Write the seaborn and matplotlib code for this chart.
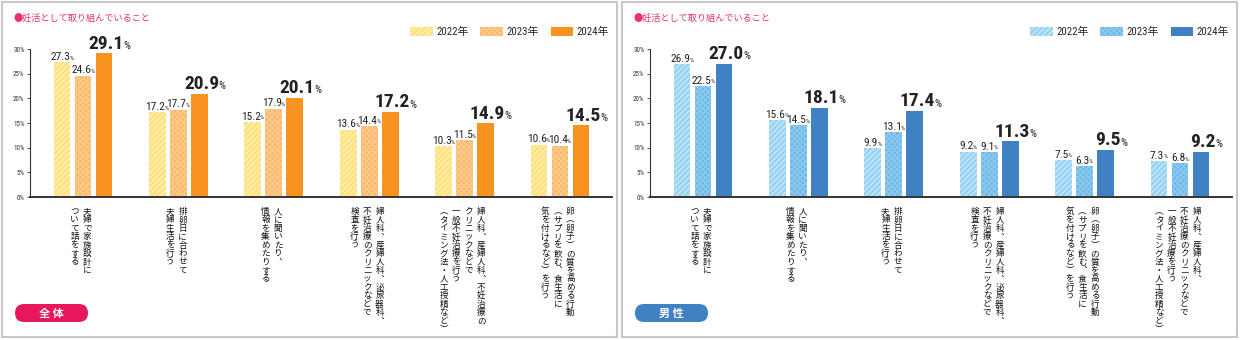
import numpy as np
import pandas as pd
import seaborn as sns
import matplotlib
matplotlib.use("Agg")
import matplotlib.pyplot as plt
from matplotlib.patches import Patch, FancyBboxPatch, Rectangle
from matplotlib.transforms import IdentityTransform, blended_transform_factory

# ---------------- data ----------------
years = ["2022年", "2023年", "2024年"]

cats_all = [
    "夫婦で家族設計に\nついて話をする",
    "排卵日に合わせて\n夫婦生活を行う",
    "人に聞いたり、\n情報を集めたりする",
    "婦人科、産婦人科、泌尿器科、\n不妊治療のクリニックなどで\n検査を行う",
    "婦人科、産婦人科、不妊治療の\nクリニックなどで\n一般不妊治療を行う\n（タイミング法・人工授精など）",
    "卵（卵子）の質を高める行動\n（サプリを飲む、食生活に\n気を付けるなど）を行う",
]
all_2022 = [27.3, 17.2, 15.2, 13.6, 10.3, 10.6]
all_2023 = [24.6, 17.7, 17.9, 14.4, 11.5, 10.4]
all_2024 = [29.1, 20.9, 20.1, 17.2, 14.9, 14.5]

cats_male = [
    "夫婦で家族設計に\nついて話をする",
    "人に聞いたり、\n情報を集めたりする",
    "排卵日に合わせて\n夫婦生活を行う",
    "婦人科、産婦人科、泌尿器科、\n不妊治療のクリニックなどで\n検査を行う",
    "卵（卵子）の質を高める行動\n（サプリを飲む、食生活に\n気を付けるなど）を行う",
    "婦人科、産婦人科、\n不妊治療のクリニックなどで\n一般不妊治療を行う\n（タイミング法・人工授精など）",
]
male_2022 = [26.9, 15.6, 9.9, 9.2, 7.5, 7.3]
male_2023 = [22.5, 14.5, 13.1, 9.1, 6.3, 6.8]
male_2024 = [27.0, 18.1, 17.4, 11.3, 9.5, 9.2]

yticks = [0, 5, 10, 15, 20, 25, 30]
title_text = "●妊活として取り組んでいること"
badges = ["全体", "男性"]

# ---------------- style ----------------
sns.set_theme(style="white")
CJK = ["Noto Sans CJK JP", "DejaVu Sans"]
NUM = ["Roboto Condensed", "Liberation Sans Narrow", "Roboto", "DejaVu Sans"]
plt.rcParams["font.family"] = CJK
plt.rcParams["hatch.linewidth"] = 1.2

W, H = 1240, 340
fig = plt.figure(figsize=(W / 100, H / 100), dpi=100)
fig.patch.set_facecolor("white")

PINK = "#E8336D"
TXT = "#222222"

orange_pal = {"fill": ["#FFE07C", "#F9B660", "#F7931E"],
              "hatch": ["#FFEFB0", "#FCC98A", None]}
blue_pal = {"fill": ["#93D2F2", "#66B6E6", "#4081C4"],
            "hatch": ["#C3E6F8", "#8CC8EE", None]}
hatches = ["//////", "xxxxxx", None]

VMAP = {"（": "︵", "）": "︶", "、": "︑"}


def vertical_label(ax, xc, text):
    lines = text.split("\n")
    n = len(lines)
    tr = blended_transform_factory(ax.transData, ax.transAxes)
    colgap = 9.0
    step = 6.05
    for j, line in enumerate(lines):
        dx = ((n - 1) / 2 - j) * colgap - 1.5
        for k, ch in enumerate(line):
            dy = -(10.5 + k * step)
            ax.annotate(VMAP.get(ch, ch), xy=(xc, 0), xycoords=tr,
                        xytext=(dx, dy), textcoords="offset points",
                        ha="center", va="center", fontsize=6.2,
                        family=CJK, color="#111111", annotation_clip=False)


def panel(x0, cats, v22, v23, v24, pal, badge, badge_color):
    ax = fig.add_axes([(x0 + 30) / W, 1 - 197 / H, 582 / W, 148 / H])
    df = pd.DataFrame({
        "cat": cats * 3,
        "year": [years[0]] * 6 + [years[1]] * 6 + [years[2]] * 6,
        "value": v22 + v23 + v24,
    })
    sns.barplot(data=df, x="cat", y="value", hue="year", order=cats,
                hue_order=years, palette=pal["fill"], width=0.66, gap=0.2,
                saturation=1, legend=False, ax=ax, errorbar=None)
    for i, cont in enumerate(ax.containers):
        for bar in cont:
            bar.set_linewidth(0)
            if hatches[i]:
                bar.set_hatch(hatches[i])
                bar.set_edgecolor(pal["hatch"][i])
            xc = bar.get_x() + bar.get_width() / 2
            h = bar.get_height()
            if i == 2:
                t = ax.annotate(f"{h:.1f}", xy=(xc, h), xytext=(1.5, 0.5),
                                textcoords="offset points", ha="center",
                                va="bottom", fontsize=14, fontweight="bold",
                                family=NUM, color=TXT, annotation_clip=False)
                ax.annotate("%", xy=(1, 0.1), xycoords=t, xytext=(-0.3, 0),
                            textcoords="offset points", ha="left", va="bottom",
                            fontsize=7.8, family=NUM, color=TXT)
            else:
                t = ax.annotate(f"{h:.1f}", xy=(xc, h), xytext=(-1.4, 0.3),
                                textcoords="offset points", ha="center",
                                va="bottom", fontsize=8.2, family=NUM,
                                color=TXT, annotation_clip=False)
                ax.annotate("%", xy=(1, 0.12), xycoords=t, xytext=(-0.6, 0),
                            textcoords="offset points", ha="left", va="bottom",
                            fontsize=4.6, family=NUM, color=TXT)
    ax.set_xlim(-0.556, 5.546)
    ax.set_ylim(0, 30)
    ax.set_yticks(yticks)
    ax.set_yticklabels([f"{v}%" for v in yticks], fontsize=5, color="#333333",
                       family=NUM)
    ax.tick_params(axis="y", direction="out", length=2.5, width=0.6,
                   pad=1.5, colors="#333333", left=True)
    ax.set_xticks(range(len(cats)))
    ax.set_xticklabels([])
    ax.tick_params(axis="x", length=0)
    ax.set_xlabel("")
    ax.set_ylabel("")
    for s in ["top", "right"]:
        ax.spines[s].set_visible(False)
    ax.spines["left"].set_color("#333333")
    ax.spines["left"].set_linewidth(0.8)
    ax.spines["bottom"].set_color("#333333")
    ax.spines["bottom"].set_linewidth(1.4)
    ax.set_facecolor("none")
    for i, c in enumerate(cats):
        vertical_label(ax, i, c)

    # legend
    handles = []
    for i in range(3):
        handles.append(Patch(facecolor=pal["fill"][i], hatch=hatches[i],
                             edgecolor=pal["hatch"][i] if hatches[i] else pal["fill"][i],
                             linewidth=0))
    ax.legend(handles, years, ncol=3, loc="center right",
              bbox_to_anchor=((x0 + 609) / W, 1 - 32 / H),
              bbox_transform=fig.transFigure, frameon=False,
              handlelength=2.1, handleheight=1.0, columnspacing=1.1,
              handletextpad=0.3, borderpad=0, borderaxespad=0,
              prop={"family": NUM + ["Noto Sans CJK JP"], "size": 7.8})

    # title
    fig.text((x0 + 14) / W, 1 - 18 / H, title_text, color=PINK, fontsize=6.6,
             ha="left", va="center", family=CJK)

    # border
    fig.add_artist(Rectangle((x0 + 1.5, 3), 615, 335.5, transform=IdentityTransform(),
                             facecolor="none", edgecolor="#C8C8C8", linewidth=1.5))
    # badge
    fig.add_artist(FancyBboxPatch((x0 + 15, H - 322), 73, 18,
                                  boxstyle="round,pad=0,rounding_size=9",
                                  transform=IdentityTransform(),
                                  facecolor=badge_color, edgecolor="none"))
    fig.text((x0 + 51.5) / W, 1 - 313 / H, badge[0] + " " + badge[1],
             color="white", fontsize=8, fontweight="bold",
             ha="center", va="center", family=CJK)
    return ax


panel(0, cats_all, all_2022, all_2023, all_2024, orange_pal, badges[0], "#E8175D")
panel(620, cats_male, male_2022, male_2023, male_2024, blue_pal, badges[1], "#4081C4")

fig.savefig("out.png", dpi=100, facecolor="white")
